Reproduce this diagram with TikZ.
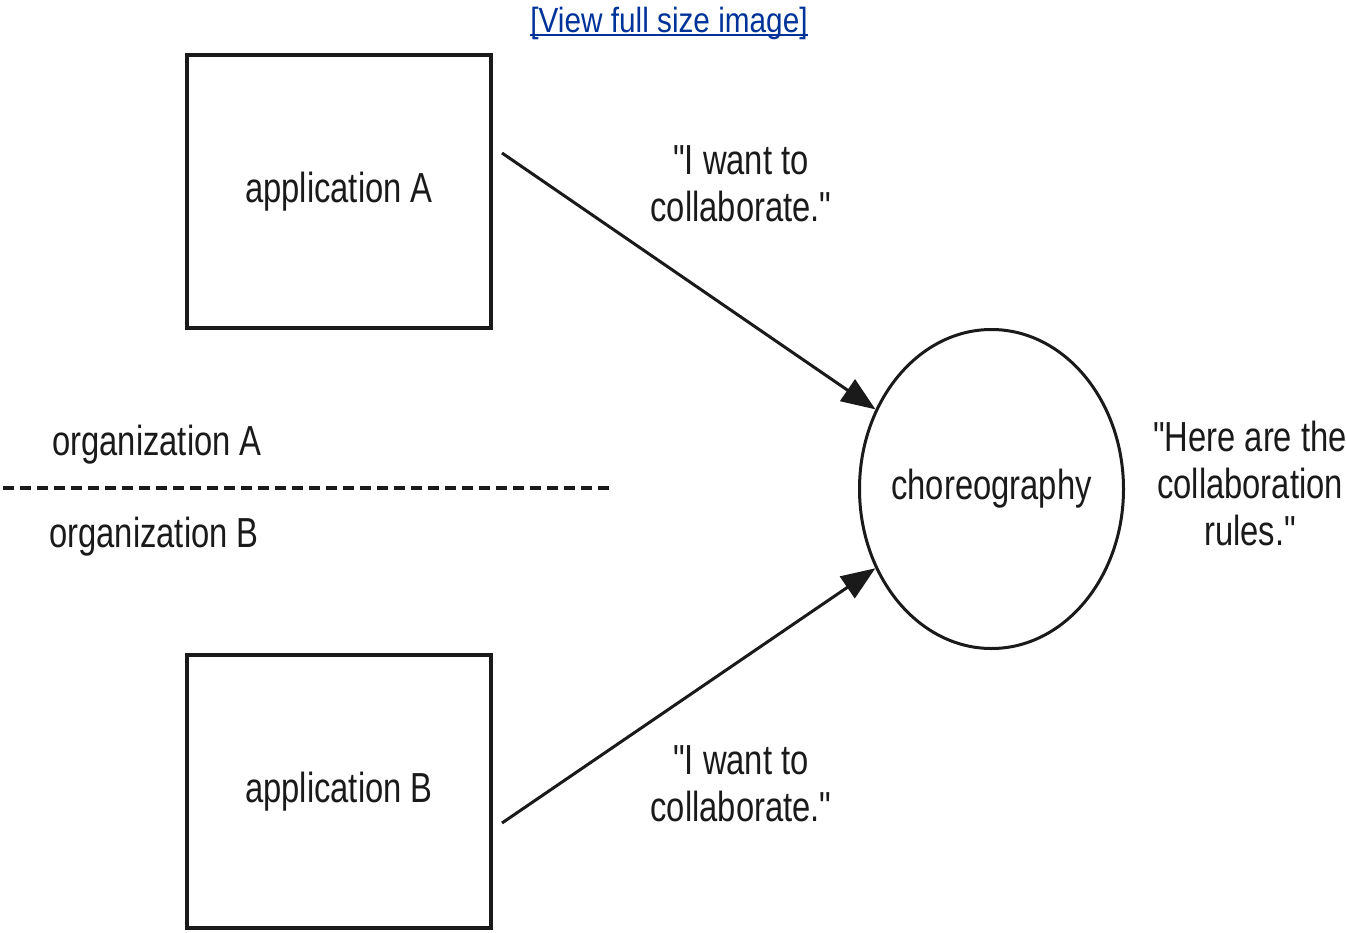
\documentclass[tikz,border=0pt]{standalone}
\usepackage{fontspec}
\newfontfamily\labelfont{Liberation Sans}[FakeStretch=0.78]
\newfontfamily\linkfont{Liberation Sans}[FakeStretch=0.85]
\usetikzlibrary{arrows.meta,shapes.geometric}
\definecolor{linkblue}{HTML}{003399}
\definecolor{ink}{HTML}{1A1A1A}
\begin{document}
\begin{tikzpicture}[x=1pt,y=-1pt,
  bigtext/.style={font=\labelfont\fontsize{42}{47}\selectfont, text=ink},
  lbl/.style={bigtext, inner sep=0pt, align=center},
  appbox/.style={bigtext, draw=ink, line width=4pt, minimum width=304pt,
                 minimum height=273pt, inner sep=0pt},
  hub/.style={ellipse, draw=ink, line width=3pt, minimum width=264pt,
              minimum height=319pt, inner sep=0pt},
  msg/.style={draw=ink, line width=3pt, -{Triangle[length=34pt,width=26pt]}},
  border/.style={draw=ink, line width=4pt, dash pattern=on 11pt off 6pt},
  linktext/.style={font=\linkfont\fontsize{35}{40}\selectfont, text=linkblue, inner sep=0pt}
]
\useasboundingbox (0,0) rectangle (1346,932);

% link caption above the figure
\node[linktext, anchor=base] (link) at (669,32) {[View full size image]};
\draw[linkblue, line width=2.5pt]
  ([yshift=-3pt]link.base west) -- ([yshift=-3pt]link.base east);

% the two applications and the choreography
\node[appbox] (appA) at (339,191.5) {application A};
\node[appbox] (appB) at (339,791.5) {application B};
\node[hub] (chor) at (991.5,489) {};
\node[lbl] (chorText) at (chor.center) {choreography};

% organisation boundary
\coordinate (divL) at (3,488);
\coordinate (divR) at (615,488);
\draw[border] (divL) -- (divR);
\node[lbl, anchor=base] (orgA) at (157,455) {organization A};
\node[lbl, anchor=base] (orgB) at (154,547) {organization B};

% requests sent to the choreography
\coordinate (srcA) at (502,153);
\coordinate (srcB) at (502,823);
\draw[msg] (srcA) -- (chor);
\draw[msg] (srcB) -- (chor);

\node[lbl] (reqA) at (741,184) {"I want to\\collaborate."};
\node[lbl] (reqB) at (741,784) {"I want to\\collaborate."};
\node[lbl] (rules) at (1250,483) {"Here are the\\collaboration\\rules."};
\end{tikzpicture}
\end{document}
